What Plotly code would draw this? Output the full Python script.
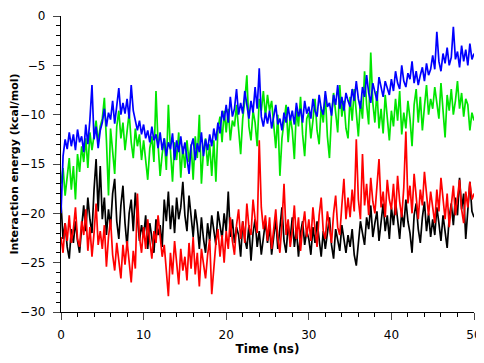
import numpy as np
import plotly.graph_objects as go

time_ns = np.linspace(0, 50, 201)

blue = [
    -20.0, -14.2, -12.5, -13.5, -11.8, -13.2, -12.0, -13.6, -11.5, -12.8, -12.2, -13.8, -11.0, -13.0, -10.5, -7.0, -12.5, -11.2, -13.4, -11.6,
    -10.8, -9.4, -11.2, -9.8, -10.5, -8.6, -10.9, -9.2, -7.3, -10.0, -8.8, -9.9, -8.4, -10.4, -7.0, -9.6, -10.8, -11.6, -10.6, -12.0,
    -11.0, -12.4, -11.6, -12.8, -11.2, -12.6, -12.0, -13.4, -11.8, -13.6, -12.4, -14.2, -12.8, -13.5, -11.9, -14.6, -12.6, -13.8, -12.2, -14.0,
    -12.8, -14.4, -16.0, -13.2, -12.4, -14.6, -12.9, -13.8, -11.8, -14.2, -12.5, -13.6, -12.0, -13.2, -11.4, -12.6, -10.8, -11.9, -9.6, -10.6,
    -9.0, -10.8, -8.2, -10.2, -9.4, -7.4, -10.0, -8.8, -9.9, -7.6, -9.2, -10.4, -8.6, -9.8, -7.2, -9.4, -5.3, -10.2, -11.2, -9.8,
    -10.9, -9.6, -11.4, -10.2, -9.0, -11.0, -10.4, -11.6, -9.8, -10.8, -9.2, -10.6, -9.6, -11.0, -8.8, -10.2, -9.4, -10.8, -8.6, -9.9,
    -9.2, -10.4, -8.4, -9.6, -10.2, -8.0, -9.4, -10.0, -7.6, -9.2, -8.8, -10.1, -8.0, -9.0, -7.0, -9.4, -8.2, -9.6, -7.8, -8.6,
    -9.2, -7.4, -8.6, -6.6, -8.4, -9.4, -7.2, -8.2, -6.0, -7.8, -8.8, -6.8, -7.6, -8.6, -6.2, -7.4, -8.2, -6.6, -7.2, -8.0,
    -6.4, -7.6, -5.6, -6.8, -7.4, -5.0, -6.6, -7.2, -5.8, -6.4, -4.6, -6.8, -5.6, -7.0, -6.0, -5.2, -6.6, -4.8, -6.0, -5.4,
    -4.0, -5.4, -1.6, -4.6, -5.6, -3.8, -4.8, -3.2, -5.0, -4.2, -1.1, -4.4, -3.6, -5.2, -3.0, -4.6, -3.4, -5.0, -2.8, -4.4, -3.8,
]

green = [
    -17.0, -15.4, -18.2, -16.0, -14.4, -17.6, -15.2, -18.6, -14.0, -15.8, -13.2, -14.8, -12.4, -15.4, -11.8, -13.6, -12.0, -10.6, -12.8, -11.2,
    -10.4, -8.3, -12.6, -18.2, -11.4, -13.8, -16.0, -11.2, -9.6, -12.4, -10.8, -13.6, -11.6, -9.8, -12.8, -14.4, -11.4, -13.2, -12.0, -14.6,
    -12.6, -15.0, -16.6, -13.4, -12.2, -14.8, -7.6, -13.0, -16.2, -14.0, -12.4, -15.6, -9.0, -13.6, -16.8, -12.8, -14.6, -11.8, -16.4, -13.2,
    -15.4, -12.6, -14.8, -13.0, -16.6, -12.2, -14.4, -10.0, -17.0, -13.6, -12.4, -15.2, -13.0, -16.2, -12.6, -16.8, -11.4, -10.2, -12.8, -9.6,
    -11.8, -9.4, -12.6, -10.6, -11.2, -9.0, -12.0, -14.0, -10.4, -8.6, -6.0, -11.2, -12.6, -9.6, -10.8, -13.2, -8.4, -9.6, -7.6, -10.2,
    -8.0, -9.6, -8.6, -11.0, -13.4, -10.0, -16.2, -12.4, -10.6, -9.0, -12.8, -10.2, -11.6, -14.5, -9.4, -11.2, -8.2, -12.0, -14.2, -10.4,
    -9.8, -12.4, -10.6, -8.4, -11.6, -13.0, -9.2, -10.8, -8.0, -12.2, -14.4, -10.0, -7.8, -9.6, -11.8, -7.0, -10.2, -8.6, -11.4, -12.4,
    -8.2, -10.6, -7.4, -9.8, -12.2, -8.6, -10.4, -5.6, -9.0, -11.0, -3.7, -8.8, -10.8, -7.6, -11.4, -9.4, -11.9, -8.0, -10.2, -12.6,
    -9.6, -11.2, -8.4, -10.6, -7.6, -12.0, -9.8, -11.4, -8.6, -10.4, -13.2, -9.0, -7.4, -10.8, -8.2, -11.6, -9.2, -7.0, -10.0, -8.4,
    -9.4, -7.2, -8.8, -10.4, -6.8, -9.2, -12.3, -8.0, -9.6, -7.4, -10.0, -8.6, -6.6, -9.4, -7.8, -10.2, -8.4, -9.0, -11.6, -9.8, -10.6,
]

black = [
    -19.0, -22.6, -21.0, -23.4, -24.6, -21.6, -23.0, -20.8, -22.8, -24.0, -21.4, -19.2, -21.8, -18.4, -20.6, -22.0, -17.6, -14.5, -19.8, -15.2,
    -20.6, -18.4, -22.2, -19.6, -21.4, -18.0, -16.5, -20.8, -22.6, -19.2, -17.2, -21.0, -23.4, -20.0, -18.6, -21.8, -17.9, -20.4, -22.8, -21.2,
    -22.4, -20.2, -23.6, -21.0, -22.8, -24.0, -20.6, -22.2, -21.2, -23.4, -18.6, -20.8, -17.8, -21.6, -19.2, -22.0, -18.4, -20.6, -19.4, -16.8,
    -20.2, -21.8, -18.2, -20.6, -22.4, -19.6, -21.2, -23.6, -20.4, -22.6, -24.0, -21.0, -22.8, -20.2, -21.6, -23.2, -19.8, -21.4, -22.6, -20.0,
    -21.8, -17.8, -22.4, -20.6, -23.0, -21.4, -22.2, -24.4, -20.8, -22.6, -23.6, -21.2, -24.8, -22.0, -20.6, -23.4, -21.8, -24.2, -22.4, -20.8,
    -23.0, -21.4, -24.2, -22.2, -20.6, -23.6, -21.8, -19.4, -22.8, -24.0, -21.2, -22.6, -20.4, -23.4, -21.6, -24.4, -22.0, -20.8, -23.2, -21.8,
    -22.6, -24.2, -21.4, -23.0, -20.8, -22.4, -24.4, -21.8, -23.6, -22.0, -20.4, -23.2, -24.6, -21.6, -22.8, -23.8, -21.2, -22.6, -24.0, -22.2,
    -23.4, -21.6, -24.2, -25.3, -22.6, -20.8, -22.0, -23.2, -20.4, -21.6, -19.2, -22.4, -21.0, -19.8, -22.8, -20.6, -19.0, -21.8, -20.2, -22.6,
    -19.4, -21.2, -18.8, -20.6, -22.6, -19.8, -21.4, -18.6, -20.8, -22.0, -24.0, -20.2, -19.0, -21.6, -23.0, -20.4, -18.8, -21.8, -20.0, -22.4,
    -20.6, -22.2, -19.4, -21.0, -22.8, -20.2, -21.6, -23.5, -20.4, -19.0, -21.2, -18.4, -20.2, -16.4, -19.6, -18.0, -22.6, -19.2, -16.8, -19.8, -20.4,
]

red = [
    -22.4, -24.0, -21.0, -22.8, -20.2, -23.0, -21.6, -19.4, -22.6, -23.4, -20.8, -22.2, -19.6, -23.8, -21.4, -24.4, -22.0, -19.0, -23.2, -21.8,
    -23.6, -21.2, -25.4, -22.4, -20.6, -24.2, -25.8, -23.0, -24.8, -26.6, -23.2, -25.2, -22.8, -24.6, -27.0, -23.8, -25.6, -18.0, -22.4, -24.0,
    -21.4, -23.6, -20.6, -22.8, -24.6, -21.8, -23.0, -20.2, -22.4, -24.4, -23.2, -25.6, -28.4, -24.0, -26.2, -22.8, -25.0, -27.2, -23.6, -25.8,
    -24.4, -26.8, -23.0, -25.6, -22.4, -26.2, -24.0, -27.4, -23.6, -25.2, -26.6, -24.2, -22.6, -28.2, -25.4, -23.0, -21.6, -24.4, -22.2, -25.0,
    -21.8, -23.6, -20.4, -22.8, -24.2, -21.2, -19.6, -22.6, -20.8, -23.0, -19.0, -21.4, -22.2, -18.6, -20.6, -22.0, -12.6, -19.4, -21.6, -20.2,
    -22.8, -20.4, -23.6, -21.2, -19.6, -22.6, -24.0, -21.0, -17.0, -22.2, -20.6, -23.4, -21.8, -19.2, -22.6, -20.4, -23.8, -21.4, -19.8, -22.4,
    -20.6, -22.8, -19.4, -21.6, -23.4, -20.2, -18.4, -21.8, -22.6, -19.8, -21.2, -23.0, -20.0, -18.2, -21.4, -22.2, -19.2, -16.5, -20.6, -18.4,
    -20.4, -17.6, -19.8, -12.5, -18.6, -20.6, -14.0, -19.2, -17.0, -20.2, -16.4, -18.8, -20.0, -17.2, -14.5, -19.4, -17.8, -20.4, -16.6, -18.6,
    -19.6, -17.0, -20.2, -16.2, -18.8, -20.4, -17.4, -11.7, -19.0, -17.2, -20.0, -16.0, -18.6, -20.6, -17.6, -19.2, -15.8, -18.4, -20.2, -17.8,
    -19.4, -21.0, -17.6, -19.8, -16.4, -18.8, -20.6, -18.0, -21.4, -19.2, -17.2, -20.2, -18.6, -16.6, -19.6, -21.0, -17.8, -19.4, -16.8, -18.6, -18.0,
]

series = [("black", black, "#000000"), ("red", red, "#ff0000"),
          ("green", green, "#00e600"), ("blue", blue, "#0000ff")]

fig = go.Figure()
for name, vals, col in series:
    fig.add_trace(go.Scatter(x=time_ns, y=vals, mode="lines", name=name,
                             line=dict(color=col, width=1.7)))

font_family = "DejaVu Sans"
fig.update_layout(
    width=476, height=355,
    margin=dict(l=53, r=10, t=8, b=51),
    plot_bgcolor="white", paper_bgcolor="white",
    showlegend=False,
    font=dict(family=font_family, size=11, color="black"),
)
fig.update_xaxes(
    range=[0, 50], tick0=0, dtick=10, ticks="outside", ticklen=7, tickwidth=1.3,
    showline=True, linecolor="black", linewidth=1.3, showgrid=False, zeroline=False,
    minor=dict(dtick=2, ticks="outside", ticklen=4, tickwidth=1.1, tickcolor="black", showgrid=False),
    tickfont=dict(size=12), automargin=False, ticklabeloverflow="allow", ticklabelstandoff=4,
    title=dict(text="<b>Time (ns)</b>", font=dict(size=12), standoff=4),
)
fig.update_yaxes(
    range=[-30, 0], tick0=0, dtick=5, ticks="outside", ticklen=7, tickwidth=1.3,
    showline=True, linecolor="black", linewidth=1.3, showgrid=False, zeroline=False,
    minor=dict(dtick=1, ticks="outside", ticklen=4, tickwidth=1.1, tickcolor="black", showgrid=False),
    tickfont=dict(size=12), automargin=False, ticklabeloverflow="allow", ticklabelstandoff=5,
    title=dict(text="<b>Interaction energy (kcal/mol)</b>", font=dict(size=11), standoff=0),
)

fig.write_html("out.html")
